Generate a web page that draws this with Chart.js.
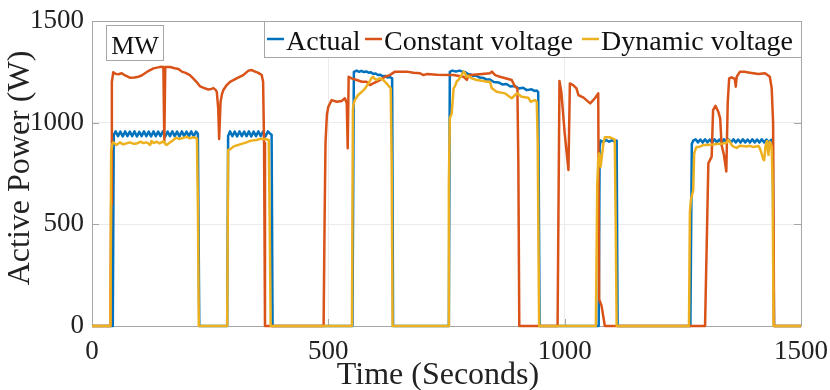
<!DOCTYPE html>
<html>
<head>
<meta charset="utf-8">
<script src="https://cdn.jsdelivr.net/npm/chart.js@4.4.1/dist/chart.umd.min.js"></script>
<style>
  html, body { margin: 0; padding: 0; background: #ffffff; }
  #wrap { width: 830px; height: 390px; position: relative; }
</style>
</head>
<body>
<div id="wrap"><canvas id="c" width="830" height="390"></canvas></div>
<script>
// ---------- Data ----------
const xTicks = [0, 500, 1000, 1500];
const yTicks = [0, 500, 1000, 1500];
const seriesLabels = ["Actual", "Constant voltage", "Dynamic voltage"];
const unitLabel = "MW";
const xTitle = "Time (Seconds)";
const yTitle = "Active Power (W)";

// Actual (time in s, power)
const actualT = [0, 44, 46, 50, 55, 60, 65, 70, 75, 80, 85, 90, 95, 100, 105, 110, 115, 120, 125, 130, 135, 140, 145, 150, 155, 160, 165, 170, 175, 180, 185, 190, 195, 200, 205, 210, 215, 220, 224, 227,
  286, 288, 292, 297, 302, 307, 312, 317, 322, 327, 332, 337, 342, 347, 352, 357, 362, 367, 372, 377, 380, 382,
  551, 554, 560, 565, 570, 575, 580, 585, 590, 595, 600, 605, 610, 615, 620, 625, 630, 635, 637,
  755, 757, 762, 770, 778, 785, 790, 795, 800, 806, 812, 820, 828, 835, 842, 850, 860, 868, 877, 885, 895, 903, 912, 920, 930, 936, 941, 944, 947,
  1072, 1074, 1076, 1082, 1088, 1094, 1100, 1106, 1110, 1112,
  1266, 1269, 1272, 1277, 1282, 1287, 1292, 1297, 1302, 1307, 1312, 1317, 1322, 1327, 1332, 1337, 1342, 1347, 1352, 1357, 1362, 1367, 1372, 1377, 1382, 1387, 1392, 1397, 1402, 1407, 1412, 1417, 1422, 1427, 1432, 1437, 1440, 1443, 1500];
const actualV = [0, 0, 940, 957, 933, 956, 932, 957, 934, 956, 933, 957, 932, 955, 934, 957, 933, 956, 932, 957, 933, 956, 934, 957, 932, 956, 933, 957, 933, 956, 932, 957, 934, 956, 933, 957, 932, 956, 945, 0,
  0, 935, 957, 933, 956, 932, 957, 934, 956, 933, 957, 932, 956, 933, 957, 934, 956, 932, 957, 945, 940, 0,
  0, 1250, 1256, 1250, 1255, 1249, 1252, 1246, 1248, 1240, 1242, 1234, 1236, 1228, 1230, 1222, 1224, 1218, 0,
  0, 1250, 1256, 1252, 1256, 1250, 1248, 1240, 1238, 1230, 1232, 1222, 1220, 1212, 1212, 1200, 1198, 1188, 1190, 1178, 1180, 1168, 1172, 1160, 1164, 1156, 1158, 1150, 0,
  0, 880, 912, 905, 915, 906, 914, 906, 912, 0,
  0, 895, 912, 918, 903, 917, 902, 918, 903, 917, 902, 918, 903, 917, 902, 918, 903, 917, 902, 918, 903, 917, 902, 918, 903, 917, 902, 918, 903, 917, 902, 918, 903, 917, 902, 916, 910, 0, 0];

// Constant voltage
const constT = [0, 39, 40.5, 42, 45, 50, 56, 63, 70, 80, 90, 98, 105, 112, 120, 130, 140, 147, 151, 153, 155, 165, 175, 183, 190, 198, 207, 215, 221, 228, 235, 246, 250, 257, 262, 264, 267, 269, 272, 275, 278, 285, 292, 306, 320, 331, 338, 345, 352, 359, 362, 364, 366,
  490, 492, 494, 497, 500, 507, 518, 528, 535, 539, 541, 543, 549, 560, 571, 581, 588, 595, 606, 620, 630, 641, 666, 680, 694, 701, 708, 730, 765, 786, 793, 796, 800, 820, 842, 846, 853, 863, 888, 895, 900, 902, 904,
  985, 989, 993, 1000, 1008, 1011, 1018, 1025, 1029, 1040, 1054, 1064, 1071, 1073, 1078, 1085,
  1297, 1304, 1311, 1314, 1319, 1325, 1329, 1332, 1337, 1342, 1345, 1348, 1353, 1360, 1362, 1364, 1371, 1380, 1392, 1410, 1424, 1434, 1438, 1441, 1443, 1500];
const constV = [0, 0, 600, 1200, 1248, 1240, 1238, 1243, 1232, 1221, 1222, 1226, 1232, 1243, 1255, 1267, 1272, 1275, 1274, 905, 1274, 1274, 1268, 1264, 1251, 1245, 1234, 1215, 1201, 1180, 1172, 1163, 1164, 1170, 1160, 1152, 1071, 920, 1103, 1140, 1161, 1185, 1201, 1218, 1234, 1256, 1259, 1251, 1245, 1234, 1201, 900, 0,
  0, 500, 900, 1040, 1078, 1111, 1103, 1106, 1120, 1095, 874, 1226, 1218, 1210, 1201, 1201, 1185, 1193, 1205, 1226, 1234, 1251, 1251, 1246, 1243, 1234, 1239, 1236, 1234, 1226, 1210, 1230, 1234, 1238, 1243, 1251, 1234, 1226, 1210, 1177, 1169, 800, 0,
  0, 1205, 1150, 950, 767, 1193, 1185, 1169, 1136, 1123, 1095, 1120, 1144, 130, 100, 0,
  0, 800, 833, 1062, 1083, 1054, 1021, 890, 841, 760, 1100, 1218, 1223, 1215, 1177, 1226, 1251, 1250, 1246, 1239, 1243, 1226, 1169, 1000, 0, 0];

// Dynamic voltage
const dynT = [0, 39, 40.5, 43, 45, 52, 59, 66, 73, 80, 88, 95, 102, 109, 116, 123, 126, 130, 137, 143, 147, 151, 155, 158, 165, 172, 178, 184, 190, 200, 207, 213, 218, 222, 224, 226,
  286, 288, 293, 299, 306, 313, 320, 327, 334, 341, 348, 355, 362, 368, 374, 376, 378,
  550, 552, 553, 556, 563, 571, 578, 585, 592, 595, 598, 602, 609, 616, 623, 629, 632, 634, 636,
  754, 755, 757, 761, 765, 768, 772, 775, 782, 786, 789, 792, 796, 803, 814, 828, 835, 842, 846, 849, 856, 874, 888, 895, 900, 909, 923, 928, 937, 941, 943, 946,
  1066, 1069, 1071, 1073, 1076, 1079, 1082, 1085, 1096, 1103, 1106, 1108, 1110,
  1263, 1265, 1267, 1272, 1274, 1277, 1279, 1286, 1293, 1300, 1314, 1321, 1335, 1343, 1346, 1350, 1353, 1357, 1364, 1371, 1385, 1392, 1399, 1410, 1413, 1417, 1420, 1422, 1425, 1428, 1431, 1434, 1438, 1440, 1442, 1500];
const dynV = [0, 0, 857, 895, 903, 890, 903, 893, 898, 903, 896, 898, 906, 900, 903, 890, 910, 900, 906, 898, 903, 910, 895, 890, 903, 915, 926, 920, 923, 931, 923, 928, 926, 923, 600, 0,
  0, 866, 870, 882, 888, 893, 898, 903, 910, 913, 915, 920, 920, 918, 915, 500, 0,
  0, 1060, 1087, 1111, 1136, 1152, 1169, 1193, 1221, 1226, 1215, 1210, 1218, 1210, 1193, 1177, 1169, 800, 0,
  0, 700, 1021, 1046, 1169, 1180, 1205, 1210, 1234, 1251, 1245, 1226, 1230, 1218, 1210, 1205, 1201, 1201, 1169, 1165, 1152, 1144, 1120, 1136, 1144, 1128, 1123, 1103, 1111, 1103, 900, 0,
  0, 700, 816, 849, 783, 840, 900, 928, 928, 920, 918, 500, 0,
  0, 560, 620, 669, 849, 870, 880, 882, 890, 890, 893, 895, 898, 902, 915, 906, 890, 882, 876, 887, 883, 886, 880, 885, 874, 845, 820, 815, 885, 910, 841, 906, 882, 700, 0, 0];

// ---------- Chart ----------
const SERIF = "'Liberation Serif', 'DejaVu Serif', serif";
const AXIS_GRAY = '#a6a6a6';
const colors = ['#0072BD', '#D95319', '#EDB120'];
const legendStarts = [267, 365, 582];

function pts(ts, vs) { return ts.map((t, i) => ({ x: t, y: vs[i] })); }

const frame = {
  id: 'frame',
  beforeDatasetsDraw(chart) {
    const ctx = chart.ctx;
    const a = chart.chartArea;
    const xs = chart.scales.x, ys = chart.scales.y;
    ctx.save();
    ctx.strokeStyle = AXIS_GRAY;
    ctx.lineWidth = 1;
    ctx.strokeRect(Math.round(a.left) + 0.5, Math.round(a.top) + 0.5, Math.round(a.right - a.left), Math.round(a.bottom - a.top));
    const tl = 7;
    ctx.beginPath();
    xTicks.forEach(v => {
      const px = Math.round(xs.getPixelForValue(v)) + 0.5;
      ctx.moveTo(px, a.bottom); ctx.lineTo(px, a.bottom - tl);
      ctx.moveTo(px, a.top); ctx.lineTo(px, a.top + tl);
    });
    yTicks.forEach(v => {
      const py = Math.round(ys.getPixelForValue(v)) + 0.5;
      ctx.moveTo(a.left, py); ctx.lineTo(a.left + tl, py);
      ctx.moveTo(a.right, py); ctx.lineTo(a.right - tl, py);
    });
    ctx.stroke();
    ctx.restore();
  },
  afterDraw(chart) {
    const ctx = chart.ctx;
    const a = chart.chartArea;
    ctx.save();
    // axis titles
    ctx.fillStyle = '#222222';
    ctx.font = '32px ' + SERIF;
    ctx.textAlign = 'center';
    ctx.textBaseline = 'alphabetic';
    ctx.fillText(xTitle, 438, 384);
    ctx.save();
    ctx.translate(29, 168);
    ctx.rotate(-Math.PI / 2);
    ctx.fillText(yTitle, 0, 0);
    ctx.restore();

    // legend box (top-right, inside axes)
    ctx.font = '28px ' + SERIF;
    const lineLen = 17, gap = 2;
    const boxR = Math.round(a.right) + 0.5;
    const boxL = 264.5;
    const boxT = Math.round(a.top) + 0.5;
    const boxB = boxT + 36;
    ctx.fillStyle = '#ffffff';
    ctx.fillRect(boxL, boxT, boxR - boxL, boxB - boxT);
    ctx.strokeStyle = AXIS_GRAY;
    ctx.lineWidth = 1;
    ctx.strokeRect(boxL, boxT, boxR - boxL, boxB - boxT);
    ctx.textAlign = 'left';
    seriesLabels.forEach((l, i) => {
      const x = legendStarts[i];
      ctx.strokeStyle = colors[i];
      ctx.lineWidth = 2.5;
      ctx.beginPath();
      ctx.moveTo(x, boxT + 17.5); ctx.lineTo(x + lineLen, boxT + 17.5);
      ctx.stroke();
      ctx.fillStyle = '#111111';
      ctx.fillText(l, x + lineLen + gap, boxT + 28.5);
    });

    // unit annotation box
    ctx.font = '26px ' + SERIF;
    const mw = ctx.measureText(unitLabel).width;
    const bx = 106.5, by = 25.5, bw = Math.round(mw + 9), bh = 35;
    ctx.fillStyle = '#ffffff';
    ctx.fillRect(bx, by, bw, bh);
    ctx.strokeStyle = AXIS_GRAY;
    ctx.lineWidth = 1;
    ctx.strokeRect(bx, by, bw, bh);
    ctx.fillStyle = '#111111';
    ctx.textAlign = 'center';
    ctx.fillText(unitLabel, bx + bw / 2, by + 28);
    ctx.restore();
  }
};

new Chart(document.getElementById('c'), {
  type: 'line',
  data: {
    datasets: [
      { label: seriesLabels[0], data: pts(actualT, actualV), borderColor: colors[0], order: 3, clip: 4 },
      { label: seriesLabels[1], data: pts(constT, constV), borderColor: colors[1], order: 2, clip: 4 },
      { label: seriesLabels[2], data: pts(dynT, dynV), borderColor: colors[2], order: 1, clip: 4 }
    ]
  },
  options: {
    responsive: false,
    animation: false,
    devicePixelRatio: 1,
    layout: { padding: { left: 0, right: 29, top: 21, bottom: 0 } },
    elements: {
      point: { radius: 0 },
      line: { borderWidth: 2.5, tension: 0, fill: false, borderJoinStyle: 'round', borderCapStyle: 'butt' }
    },
    plugins: { legend: { display: false }, tooltip: { enabled: false } },
    scales: {
      x: {
        type: 'linear', min: 0, max: 1500,
        afterBuildTicks: s => { s.ticks = xTicks.map(v => ({ value: v })); },
        afterFit: s => { s.height = 64; s.paddingLeft = 0; s.paddingRight = 0; },
        grid: { color: '#ebebeb', drawTicks: false },
        border: { display: false },
        ticks: { font: { family: SERIF, size: 27 }, color: '#222222', padding: 10, maxRotation: 0, callback: v => String(v) },
        title: { display: false }
      },
      y: {
        type: 'linear', min: 0, max: 1500,
        afterBuildTicks: s => { s.ticks = yTicks.map(v => ({ value: v })); },
        afterFit: s => { s.width = 92; s.paddingTop = 0; s.paddingBottom = 0; },
        grid: { color: '#ebebeb', drawTicks: false },
        border: { display: false },
        ticks: { font: { family: SERIF, size: 27 }, color: '#222222', padding: 8, callback: v => String(v) },
        title: { display: false }
      }
    }
  },
  plugins: [frame]
});
</script>
</body>
</html>
